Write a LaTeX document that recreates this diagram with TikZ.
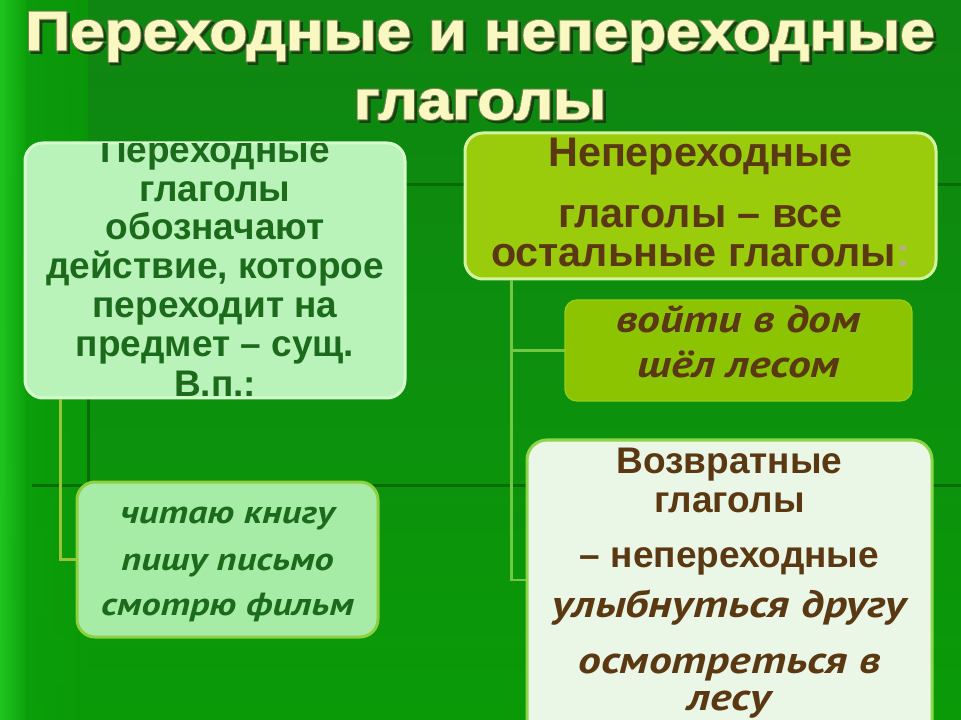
\documentclass[tikz,border=0pt]{standalone}
\usepackage{fontspec}
\setmainfont{Liberation Sans}
\newfontfamily\titlefont[FakeStretch=1.13,FakeBold=1.5]{Liberation Sans}
\newfontfamily\titleoutfont[FakeStretch=1.13,FakeBold=5]{Liberation Sans}
\newfontfamily\itfont[FakeStretch=1.2]{PT Sans}
\definecolor{bgtop}{HTML}{0F8512}
\definecolor{bgbot}{HTML}{0A9A08}
\definecolor{bgleft}{HTML}{0CA30C}
\definecolor{bgedge}{HTML}{22C822}
\definecolor{bgline}{HTML}{066C06}
\definecolor{ltopfill}{HTML}{B9F3B9}
\definecolor{ltopdraw}{HTML}{D6FBCF}
\definecolor{lbotfill}{HTML}{A6ECA6}
\definecolor{lbotdraw}{HTML}{8ED040}
\definecolor{rtopfill}{HTML}{9ACC0C}
\definecolor{rtopdraw}{HTML}{D2F3A0}
\definecolor{rmidfill}{HTML}{8CC402}
\definecolor{rmiddraw}{HTML}{98CE12}
\definecolor{rbotfill}{HTML}{EAF6E6}
\definecolor{rbotdraw}{HTML}{8CD648}
\definecolor{greentext}{HTML}{1C6A1C}
\definecolor{browntext}{HTML}{5A3812}
\definecolor{colontext}{HTML}{B4B27A}
\definecolor{lconncol}{HTML}{9CC238}
\definecolor{rconncol}{HTML}{72C842}
\definecolor{titlefill}{HTML}{FAF8C2}
\definecolor{titleline}{HTML}{7C8452}
\definecolor{titleshadow}{HTML}{164212}
\begin{document}
\begin{tikzpicture}[x=0.75pt,y=-0.75pt,
  box/.style={rectangle, rounded corners=13.5pt, line width=2.25pt, inner sep=0pt},
  bgl/.style={draw=bgline, line width=2.25pt},
  lconn/.style={draw=lconncol, line width=1.6pt},
  rconn/.style={draw=rconncol, line width=1.9pt},
  ttext/.style={anchor=base, inner sep=0pt, font=\titlefont\fontsize{41.25}{44}\selectfont\bfseries},
  tout/.style={anchor=base, inner sep=0pt, font=\titleoutfont\fontsize{41.25}{44}\selectfont\bfseries},
  gline/.style={anchor=base, inner sep=0pt, text=greentext, font=\fontsize{27.75}{30}\selectfont\bfseries},
  gital/.style={anchor=base, inner sep=0pt, text=greentext, font=\itfont\fontsize{24}{26}\selectfont\bfseries\itshape},
  bline/.style={anchor=base, inner sep=0pt, text=browntext, font=\fontsize{27.75}{30}\selectfont\bfseries},
  bbig/.style={anchor=base, inner sep=0pt, text=browntext, font=\fontsize{31}{34}\selectfont\bfseries},
  bital/.style={anchor=base, inner sep=0pt, text=browntext, font=\itfont\fontsize{28.5}{30}\selectfont\bfseries\itshape}
]
\useasboundingbox (0,0) rectangle (961,720);
\clip (0,0) rectangle (961,720);
% background
\shade[top color=bgtop, bottom color=bgbot] (0,0) rectangle (961,720);
\shade[left color=bgleft, right color=bgbot, opacity=0.8] (0,0) rectangle (88,720);
\shade[left color=bgedge, right color=bgleft, opacity=0.9] (0,0) rectangle (26,720);
\draw[bgl] (88,185) -- (961,185);
\draw[bgl] (88,185) -- (88,485);
\draw[bgl] (32,485) -- (961,485);
% title: shadow, outline, fill
\node[tout, text=titleshadow] (title1s) at (482.5,52.5) {Переходные и непереходные};
\node[tout, text=titleshadow] (title2s) at (482.5,121.5) {глаголы};
\node[tout, text=titleline] (title1o) at (480,50) {Переходные и непереходные};
\node[tout, text=titleline] (title2o) at (480,119) {глаголы};
\node[ttext, text=titlefill] (title1) at (480,50) {Переходные и непереходные};
\node[ttext, text=titlefill] (title2) at (480,119) {глаголы};
% box positions
\coordinate (ltopc) at (215,270.5);
\coordinate (rtopc) at (700.5,206);
\coordinate (rmidc) at (738.5,350.5);
\coordinate (lbotc) at (227.5,559.5);
\coordinate (rbotc) at (729.5,590);
\node[box, fill=ltopfill, draw=ltopdraw, minimum width=285pt, minimum height=191.25pt] (ltop) at (ltopc) {};
\node[box, fill=rtopfill, draw=rtopdraw, minimum width=353.25pt, minimum height=109.5pt] (rtop) at (rtopc) {};
% connectors (beneath the lower boxes)
\draw[lconn] (ltop.south west) ++(37,0) coordinate (lj) |- (lbotc);
\draw[rconn] (rtop.south west) ++(48,0) coordinate (rj) |- (rmidc);
\draw[rconn] (rj) |- ([yshift=7.5pt]rbotc);
\node[box, fill=lbotfill, draw=lbotdraw, minimum width=225.75pt, minimum height=116.25pt] (lbot) at (lbotc) {};
\node[box, rounded corners=9pt, fill=rmidfill, draw=rmiddraw, line width=1pt, minimum width=260.25pt, minimum height=75.75pt] (rmid) at (rmidc) {};
\node[box, rounded corners=15pt, fill=rbotfill, draw=rbotdraw, minimum width=303.75pt, minimum height=225pt] (rbot) at (rbotc) {};
% left top text
\begin{scope}
\clip[rounded corners=13.5pt] (25,143) rectangle (405,398);
\node[gline] (lt1) at (215,163) {Переходные};
\node[gline] (lt2) at (215,202) {глаголы};
\node[gline] (lt3) at (215,240) {обозначают};
\node[gline] (lt4) at (215,279) {действие, которое};
\node[gline] (lt5) at (215,318) {переходит на};
\node[gline] (lt6) at (215,357) {предмет – сущ.};
\node[gline] (lt7) at (215,397) {В.п.:};
\end{scope}
% right top text
\node[bbig] (rt1) at (700.5,167) {Непереходные};
\node[bbig] (rt2) at (700.5,228) {глаголы – все};
\node[bbig] (rt3) at (700.5,267) {остальные глаголы{\color{colontext}:}};
% right middle text
\node[bital] (rm1) at (738.5,333) {войти в дом};
\node[bital] (rm2) at (738.5,378) {шёл лесом};
% left bottom text
\node[gital] (lb1) at (227.5,523) {читаю книгу};
\node[gital] (lb2) at (227.5,570) {пишу письмо};
\node[gital] (lb3) at (227.5,615) {смотрю фильм};
% right bottom text
\node[bline] (rb1) at (729.5,473) {Возвратные};
\node[bline] (rb2) at (729.5,512) {глаголы};
\node[bline] (rb3) at (729.5,567) {– непереходные};
\node[bital] (rb4) at (729.5,617) {улыбнуться другу};
\node[bital] (rb5) at (729.5,673) {осмотреться в};
\node[bital] (rb6) at (729.5,710) {лесу};
\end{tikzpicture}
\end{document}
